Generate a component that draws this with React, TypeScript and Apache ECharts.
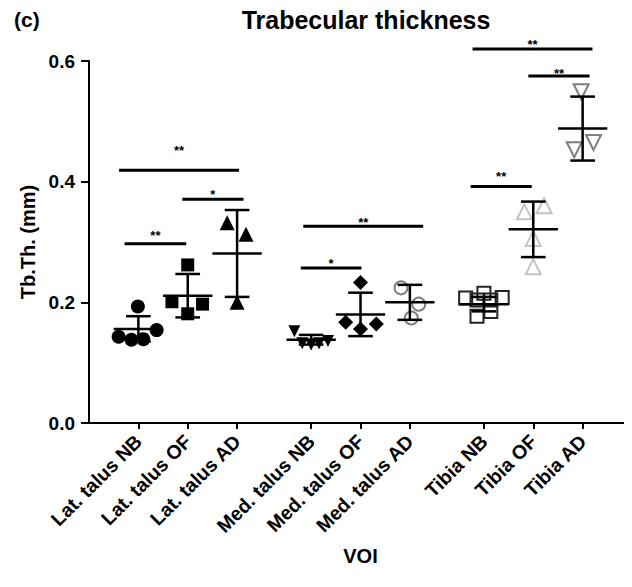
import React, { useEffect, useRef } from "react";
import * as echarts from "echarts";

// Categories and their x positions (value-axis units)
const categories = [
  "Lat. talus NB", "Lat. talus OF", "Lat. talus AD",
  "Med. talus NB", "Med. talus OF", "Med. talus AD",
  "Tibia NB", "Tibia OF", "Tibia AD",
];
const xPositions = [1, 2, 3, 4.5, 5.5, 6.5, 8, 9, 10];

// Individual values (mm) and their horizontal jitter (category units)
const latNB = [0.193, 0.154, 0.143, 0.138, 0.139];
const latNBJitter = [-0.01, 0.37, -0.4, -0.14, 0.1];
const latOF = [0.262, 0.201, 0.197, 0.181];
const latOFJitter = [0, -0.32, 0.3, 0];
const latAD = [0.332, 0.313, 0.2];
const latADJitter = [-0.2, 0.18, 0];
const medNB = [0.152, 0.132, 0.13, 0.132, 0.136];
const medNBJitter = [-0.34, -0.18, 0, 0.16, 0.34];
const medOF = [0.233, 0.167, 0.156, 0.164];
const medOFJitter = [0, -0.3, 0, 0.32];
const medAD = [0.224, 0.197, 0.174];
const medADJitter = [-0.18, 0.18, 0.03];
const tibNB = [0.207, 0.215, 0.208, 0.204, 0.204, 0.177, 0.185];
const tibNBJitter = [-0.37, 0, 0.37, -0.14, 0.14, -0.14, 0.14];
const tibOF = [0.35, 0.36, 0.306, 0.259];
const tibOFJitter = [-0.18, 0.22, 0, 0];
const tibAD = [0.549, 0.465, 0.453];
const tibADJitter = [-0.03, 0.22, -0.17];

// Mean and SD
const means = [0.156, 0.211, 0.281, 0.138, 0.18, 0.2, 0.197, 0.321, 0.488];
const sds = [0.021, 0.036, 0.072, 0.008, 0.036, 0.029, 0.012, 0.046, 0.053];

// Significance bars: [x start, x end, bar y, label y, label]
const sigBars: [number, number, number, number, string][] = [
  [0.61, 3.04, 0.419, 0.456, "**"],
  [1.89, 3.13, 0.371, 0.383, "*"],
  [0.72, 1.97, 0.297, 0.315, "**"],
  [4.34, 6.77, 0.326, 0.337, "**"],
  [4.29, 5.52, 0.257, 0.269, "*"],
  [7.73, 8.97, 0.392, 0.413, "**"],
  [8.9, 10.14, 0.575, 0.584, "**"],
  [7.77, 10.2, 0.62, 0.632, "**"],
];

const yTicks = [0, 0.2, 0.4, 0.6];

const FONT = "'Liberation Sans', Arial, sans-serif";

export default function App() {
  const ref = useRef<HTMLDivElement>(null);
  useEffect(() => {
    if (!ref.current) return;
    const chart = echarts.init(ref.current, undefined, { renderer: "svg" });

    const groups = [
      { v: latNB, j: latNBJitter, symbol: "circle", size: 14, rot: 0, fill: "#000", stroke: "#000" },
      { v: latOF, j: latOFJitter, symbol: "rect", size: 13, rot: 0, fill: "#000", stroke: "#000" },
      { v: latAD, j: latADJitter, symbol: "triangle", size: 15, rot: 0, fill: "#000", stroke: "#000" },
      { v: medNB, j: medNBJitter, symbol: "triangle", size: 12, rot: 180, fill: "#000", stroke: "#000" },
      { v: medOF, j: medOFJitter, symbol: "diamond", size: 15, rot: 0, fill: "#000", stroke: "#000" },
      { v: medAD, j: medADJitter, symbol: "circle", size: 13, rot: 0, fill: "rgba(0,0,0,0)", stroke: "#7f7f7f" },
      { v: tibNB, j: tibNBJitter, symbol: "rect", size: 13, rot: 0, fill: "rgba(0,0,0,0)", stroke: "#222" },
      { v: tibOF, j: tibOFJitter, symbol: "triangle", size: 15, rot: 0, fill: "rgba(0,0,0,0)", stroke: "#c4c4c4" },
      { v: tibAD, j: tibADJitter, symbol: "triangle", size: 15, rot: 180, fill: "rgba(0,0,0,0)", stroke: "#7f7f7f" },
    ];

    const scatterSeries = groups.map((g, gi) => ({
      type: "scatter",
      symbol: g.symbol,
      symbolSize: g.size,
      symbolRotate: g.rot,
      z: 2,
      itemStyle: {
        color: g.fill,
        borderColor: g.stroke,
        borderWidth: g.fill === "#000" ? 0 : 2,
        opacity: 1,
      },
      data: g.v.map((v, i) => [xPositions[gi] + g.j[i], v]),
    }));

    const errData = xPositions.map((x, i) => [x, means[i], means[i] - sds[i], means[i] + sds[i]]);

    const option: any = {
      animation: false,
      title: [
        {
          text: "Trabecular thickness",
          left: 361,
          top: 2,
          textAlign: "center",
          textStyle: { fontFamily: FONT, fontWeight: "bold", fontSize: 25, color: "#000" },
        },
        {
          text: "(c)",
          left: 9,
          top: 4,
          textStyle: { fontFamily: FONT, fontWeight: "bold", fontSize: 21, color: "#000" },
        },
      ],
      grid: { left: 89, right: 0, top: 61, bottom: 164, containLabel: false },
      xAxis: {
        type: "value",
        min: 0,
        max: 11,
        name: "VOI",
        nameLocation: "middle",
        nameGap: 123,
        nameTextStyle: { fontFamily: FONT, fontWeight: "bold", fontSize: 20, color: "#000" },
        splitLine: { show: false },
        axisLine: { show: true, onZero: false, lineStyle: { color: "#000", width: 2 } },
        axisTick: { show: true, customValues: xPositions, length: 6, lineStyle: { color: "#000", width: 2 } },
        axisLabel: {
          customValues: xPositions,
          rotate: 45,
          margin: 15,
          fontFamily: FONT,
          fontWeight: "bold",
          fontSize: 19.5,
          color: "#000",
          formatter: (val: number) => {
            const idx = xPositions.findIndex((p) => Math.abs(p - val) < 1e-6);
            return idx >= 0 ? categories[idx] : "";
          },
        },
      },
      yAxis: {
        type: "value",
        min: 0,
        max: 0.6,
        interval: 0.2,
        name: "Tb.Th. (mm)",
        nameLocation: "middle",
        nameGap: 46,
        nameTextStyle: { fontFamily: FONT, fontWeight: "bold", fontSize: 20, color: "#000" },
        splitLine: { show: false },
        axisLine: { show: true, lineStyle: { color: "#000", width: 2 } },
        axisTick: { show: true, length: 8, lineStyle: { color: "#000", width: 2 } },
        axisLabel: {
          customValues: yTicks,
          margin: 14,
          fontFamily: FONT,
          fontWeight: "bold",
          fontSize: 19,
          color: "#000",
          formatter: (v: number) => v.toFixed(1),
        },
      },
      series: [
        ...scatterSeries,
        {
          type: "custom",
          z: 5,
          data: errData,
          renderItem: (params: any, api: any) => {
            const x = api.value(0);
            const m = api.value(1);
            const lo = api.value(2);
            const hi = api.value(3);
            const pm = api.coord([x, m]);
            const plo = api.coord([x, lo]);
            const phi = api.coord([x, hi]);
            const halfMean = api.size([0.5, 0])[0];
            const halfCap = api.size([0.25, 0])[0];
            const st = { stroke: "#000", lineWidth: 2.5 };
            return {
              type: "group",
              children: [
                { type: "line", shape: { x1: pm[0], y1: phi[1], x2: pm[0], y2: plo[1] }, style: st },
                { type: "line", shape: { x1: pm[0] - halfMean, y1: pm[1], x2: pm[0] + halfMean, y2: pm[1] }, style: st },
                { type: "line", shape: { x1: pm[0] - halfCap, y1: phi[1], x2: pm[0] + halfCap, y2: phi[1] }, style: st },
                { type: "line", shape: { x1: pm[0] - halfCap, y1: plo[1], x2: pm[0] + halfCap, y2: plo[1] }, style: st },
              ],
            };
          },
        },
        {
          type: "custom",
          z: 5,
          clip: false,
          data: sigBars.map((b) => [b[0], b[2], b[1], b[3], b[4]]),
          renderItem: (params: any, api: any) => {
            const b = sigBars[params.dataIndex];
            const p1 = api.coord([b[0], b[2]]);
            const p2 = api.coord([b[1], b[2]]);
            const pl = api.coord([(b[0] + b[1]) / 2, b[3]]);
            return {
              type: "group",
              children: [
                { type: "line", shape: { x1: p1[0], y1: p1[1], x2: p2[0], y2: p2[1] }, style: { stroke: "#000", lineWidth: 3 } },
                {
                  type: "text",
                  x: pl[0],
                  y: pl[1] + 3,
                  style: {
                    text: b[4],
                    fill: "#000",
                    font: `bold 13px ${FONT}`,
                    align: "center",
                    verticalAlign: "middle",
                  },
                },
              ],
            };
          },
        },
      ],
    };
    chart.setOption(option);
    return () => chart.dispose();
  }, []);
  return <div ref={ref} style={{ width: 632, height: 587, margin: -8 }} />;
}
